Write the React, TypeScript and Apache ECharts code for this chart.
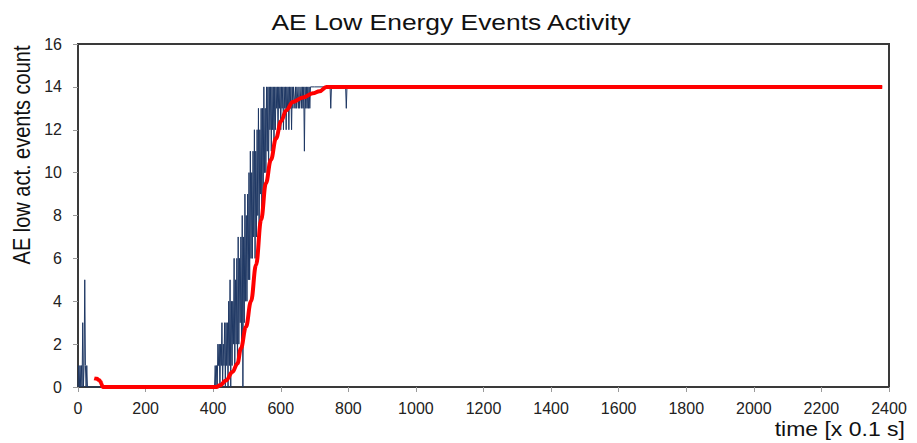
import React, { useEffect, useRef } from "react";
import * as echarts from "echarts";

const chartTitle = "AE Low Energy Events Activity";
const yTitle = "AE low act. events count";
const xTitle = "time [x 0.1 s]";

const xMin = 0;
const xMax = 2400;
const xStep = 200;
const yMin = 0;
const yMax = 16;
const yStep = 2;

// Blue: raw event count (time in 0.1 s units)
const blueEarlyTime = [0, 2, 4, 6, 8, 10, 12, 14, 16, 18, 20, 22, 24, 26, 28, 400];
const blueEarlyCount = [0, 1, 0, 1, 0, 1, 0, 3, 0, 1, 5, 1, 0, 1, 0, 0];

const blueBurstStart = 404;
const blueBurstStep = 2;
const blueBurstCount = [
  0, 1, 0, 1, 0, 2, 1, 2, 0, 2, 1, 3, 0, 2, 1, 3, 0, 3, 1, 3,
  0, 4, 1, 5, 0, 4, 1, 4, 2, 6, 1, 5, 2, 6, 1, 7, 2, 6, 3, 7,
  2, 8, 0, 7, 3, 9, 4, 8, 4, 9, 5, 10, 5, 11, 6, 10, 6, 11, 7, 12,
  6, 11, 7, 12, 8, 13, 7, 12, 9, 13, 8, 13, 9, 14, 10, 13, 10, 14, 11, 14,
  10, 14, 12, 14, 11, 14, 12, 14, 11, 14, 12, 14, 13, 14, 12, 14, 13, 14, 12, 14,
  13, 14, 12, 14, 13, 14, 12, 14, 13, 14, 12, 14, 13, 14, 12, 14, 13, 14, 14, 13,
  14, 13, 14, 14, 13, 14, 13, 13, 14, 13, 14, 13, 14, 11, 14, 13, 14, 13, 14, 13,
  14, 13, 14, 14,
];

const blueLateTime = [700, 746, 748, 750, 792, 794, 796, 2380];
const blueLateCount = [14, 14, 13, 14, 14, 13, 14, 14];

// Red: smoothed activity
const redTime = [48, 56, 62, 67, 70, 73, 410, 420, 438, 457, 472, 482, 497, 512, 527, 542, 556, 571, 586, 601, 616, 636, 666, 695, 715, 735, 2380];
const redCount = [0.4, 0.38, 0.33, 0.25, 0.12, 0, 0, 0.08, 0.3, 0.7, 1.1, 1.8, 2.8, 4.0, 5.7, 7.8, 9.5, 10.6, 11.6, 12.4, 12.9, 13.3, 13.5, 13.7, 13.8, 14, 14];

export default function App() {
  const ref = useRef<HTMLDivElement>(null);

  useEffect(() => {
    if (!ref.current) return;
    const chart = echarts.init(ref.current, undefined, { renderer: "svg" });

    const blueData: number[][] = [];
    blueEarlyTime.forEach((t, i) => blueData.push([t, blueEarlyCount[i]]));
    blueBurstCount.forEach((v, i) => blueData.push([blueBurstStart + i * blueBurstStep, v]));
    blueLateTime.forEach((t, i) => blueData.push([t, blueLateCount[i]]));
    const redData = redTime.map((t, i) => [t, redCount[i]]);

    const font = "'Liberation Sans', Arial, sans-serif";

    chart.setOption({
      animation: false,
      backgroundColor: "#ffffff",
      grid: {
        left: 78,
        right: 28,
        top: 44,
        bottom: 56,
        show: true,
        borderColor: "#3a3a3a",
        borderWidth: 2,
        containLabel: false,
      },
      xAxis: {
        type: "value",
        min: xMin,
        max: xMax,
        interval: xStep,
        axisLine: { show: true, lineStyle: { color: "#3a3a3a", width: 2 } },
        axisTick: { show: true, length: 5, lineStyle: { color: "#9a9a9a" } },
        splitLine: { show: false },
        axisLabel: {
          color: "#222",
          fontSize: 16,
          fontFamily: font,
          margin: 13,
          formatter: (v: number) => String(v),
        },
      },
      yAxis: {
        type: "value",
        min: yMin,
        max: yMax,
        interval: yStep,
        axisLine: { show: true, lineStyle: { color: "#3a3a3a", width: 2 } },
        axisTick: { show: true, length: 5, lineStyle: { color: "#9a9a9a" } },
        splitLine: { show: false },
        axisLabel: { color: "#222", fontSize: 16, fontFamily: font, margin: 16 },
      },
      graphic: [
        {
          type: "text",
          x: 451,
          y: 22,
          scaleX: 1.2,
          style: {
            text: chartTitle,
            fontSize: 22,
            fontFamily: font,
            fill: "#111",
            align: "center",
            verticalAlign: "middle",
          },
        },
        {
          type: "text",
          x: 22,
          y: 155,
          rotation: Math.PI / 2,
          scaleY: 1.2,
          style: {
            text: yTitle,
            fontSize: 20,
            fontFamily: font,
            fill: "#111",
            align: "center",
            verticalAlign: "middle",
          },
        },
        {
          type: "text",
          x: 905,
          y: 429,
          scaleX: 1.15,
          style: {
            text: xTitle,
            fontSize: 20,
            fontFamily: font,
            fill: "#111",
            align: "right",
            verticalAlign: "middle",
          },
        },
      ],
      series: [
        {
          type: "line",
          data: blueData,
          showSymbol: false,
          lineStyle: { color: "#1f3864", width: 1 },
          z: 2,
        },
        {
          type: "line",
          data: redData,
          showSymbol: false,
          smooth: 0.4,
          smoothMonotone: "x",
          lineStyle: { color: "#ff0000", width: 4 },
          z: 3,
        },
      ],
    });

    return () => chart.dispose();
  }, []);

  return (
    <div
      ref={ref}
      style={{ position: "fixed", left: 0, top: 0, width: 917, height: 443 }}
    />
  );
}
